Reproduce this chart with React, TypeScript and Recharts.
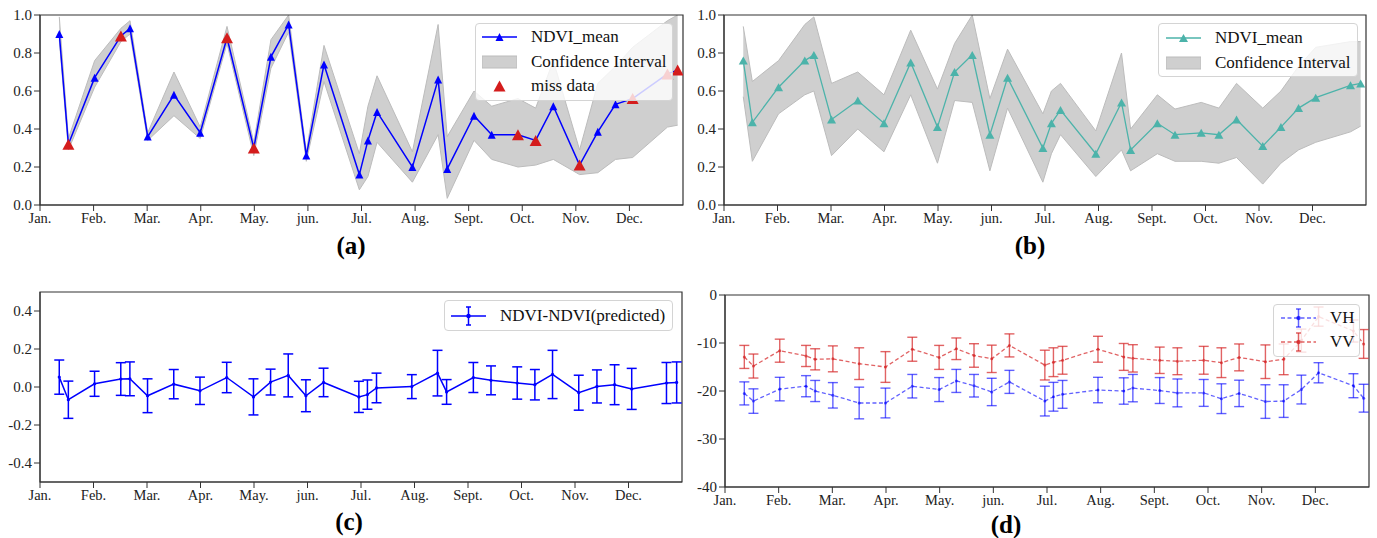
import React from 'react'
import {
  ComposedChart,
  Line,
  Area,
  Scatter,
  XAxis,
  YAxis,
  ErrorBar,
  ReferenceArea,
  Legend
} from 'recharts'

// month labels along every x axis (x value = months since Jan. 1)
const months = ['Jan.', 'Feb.', 'Mar.', 'Apr.', 'May.', 'jun.', 'Jul.', 'Aug.', 'Sept.', 'Oct.', 'Nov.', 'Dec.']
const monthTicks = [0, 1, 2, 3, 4, 5, 6, 7, 8, 9, 10, 11]

// acquisition dates, shared by all four panels
const dates = [
  0.36, 0.53, 1.02, 1.51, 1.68, 2.01, 2.5, 2.99, 3.49, 3.99, 4.31, 4.64, 4.97, 5.3, 5.96, 6.12,
  6.29, 6.95, 7.43, 7.6, 8.1, 8.43, 8.92, 9.25, 9.58, 10.07, 10.41, 10.74, 11.06, 11.71, 11.9
]

// (a) NDVI mean with gap-filled ("miss data") dates
const ndviA = [
  0.9, 0.32, 0.67, 0.89, 0.93, 0.36, 0.58, 0.38, 0.88, 0.3, 0.78, 0.95, 0.26, 0.74, 0.16, 0.34,
  0.49, 0.2, 0.66, 0.19, 0.47, 0.37, 0.37, 0.34, 0.52, 0.21, 0.385, 0.53, 0.56, 0.69, 0.71
]
const loA = [
  0.87, 0.29, 0.62, 0.86, 0.9, 0.34, 0.47, 0.35, 0.85, 0.26, 0.72, 0.91, 0.23, 0.65, 0.08, 0.15,
  0.33, 0.12, 0.37, 0.035, 0.34, 0.24, 0.2, 0.21, 0.24, 0.16, 0.17, 0.24, 0.25, 0.41, 0.42
]
const hiA = [
  0.99, 0.35, 0.76, 0.93, 0.97, 0.38, 0.7, 0.41, 0.94, 0.33, 0.87, 1.0, 0.28, 0.84, 0.27, 0.52,
  0.68, 0.28, 0.95, 0.36, 0.6, 0.52, 0.56, 0.51, 0.76, 0.29, 0.64, 0.73, 0.83, 0.97, 1.0
]
const missIdx = [1, 3, 8, 9, 22, 23, 25, 28, 29, 30]

// (b) NDVI mean
const ndviB = [
  0.76, 0.435, 0.62, 0.76, 0.79, 0.45, 0.55, 0.43, 0.75, 0.41, 0.7, 0.79, 0.37, 0.67, 0.3, 0.43,
  0.5, 0.27, 0.54, 0.29, 0.43, 0.37, 0.38, 0.37, 0.45, 0.31, 0.41, 0.51, 0.565, 0.63, 0.64
]
const loB = [
  0.57, 0.23, 0.48, 0.58, 0.6, 0.26, 0.4, 0.28, 0.58, 0.22, 0.55, 0.54, 0.18, 0.51, 0.12, 0.27,
  0.37, 0.15, 0.29, 0.18, 0.27, 0.23, 0.23, 0.22, 0.25, 0.11, 0.22, 0.29, 0.33, 0.385, 0.415
]
const hiB = [
  0.94, 0.65, 0.76, 0.95, 0.99, 0.64, 0.7, 0.58, 0.92, 0.61, 0.85, 1.0, 0.56, 0.82, 0.48, 0.6,
  0.64, 0.39, 0.8, 0.4, 0.58, 0.505, 0.54, 0.51, 0.64, 0.51, 0.6, 0.73, 0.83, 0.86, 0.86
]

// (c) NDVI - NDVI(predicted)
const diffC = [
  0.052, -0.067, 0.017, 0.042, 0.043, -0.046, 0.015, -0.02, 0.05, -0.052, 0.026, 0.061, -0.046,
  0.024, -0.052, -0.04, -0.005, 0.002, 0.073, -0.026, 0.05, 0.035, 0.021, 0.012, 0.066, -0.03,
  0.003, 0.012, -0.01, 0.021, 0.024
]
const errC = [
  0.09, 0.098, 0.066, 0.086, 0.089, 0.089, 0.077, 0.072, 0.08, 0.095, 0.068, 0.113, 0.084, 0.075,
  0.082, 0.077, 0.078, 0.063, 0.12, 0.065, 0.079, 0.076, 0.085, 0.08, 0.127, 0.092, 0.087, 0.105,
  0.108, 0.108, 0.108
]

// (d) backscatter VH / VV
const vh = [
  -20.5, -22.1, -19.6, -19.0, -20.0, -20.9, -22.5, -22.5, -19.0, -19.7, -17.9, -18.9, -20.2, -18.1,
  -22.1, -21.2, -20.7, -19.8, -20.0, -19.4, -19.9, -20.4, -20.4, -21.6, -20.5, -22.2, -22.1, -19.7,
  -16.2, -18.9, -21.5
]
const vhErr = [
  2.4, 2.55, 2.45, 2.2, 2.2, 2.65, 3.3, 3.1, 2.45, 2.5, 2.4, 2.35, 2.85, 2.4, 3.1, 3.0, 2.9, 2.65,
  2.75, 2.85, 2.7, 2.9, 2.8, 3.1, 2.75, 3.5, 3.4, 3.0, 2.1, 2.5, 2.9
]
const vv = [
  -12.9, -14.8, -11.6, -12.7, -13.4, -13.3, -14.3, -15.0, -11.3, -13.0, -11.2, -12.6, -13.3, -10.5,
  -14.6, -14.0, -13.6, -11.3, -12.9, -13.2, -13.6, -13.8, -13.6, -14.1, -13.0, -13.9, -13.4, -9.5,
  -4.5, -7.5, -10.2
]
const vvErr = [
  2.4, 2.5, 2.4, 2.2, 2.2, 2.7, 3.3, 3.2, 2.5, 2.5, 2.25, 2.45, 2.85, 2.4, 3.1, 3.0, 2.9, 2.7, 2.8,
  2.85, 2.75, 2.8, 2.9, 3.1, 2.8, 3.5, 3.2, 2.4, 2.0, 2.3, 3.0
]

const rowsA = dates.map((m, i) => ({ month: m, ndvi: ndviA[i], lo: loA[i], hi: hiA[i], miss: missIdx.includes(i) }))
const missRowsA = rowsA.filter((r) => r.miss)
const rowsB = dates.map((m, i) => ({ month: m, ndvi: ndviB[i], lo: loB[i], hi: hiB[i] }))
const rowsC = dates.map((m, i) => ({ month: m, diff: diffC[i], err: errC[i] }))
const rowsD = dates.map((m, i) => ({ month: m, vh: vh[i], vhErr: vhErr[i], vv: vv[i], vvErr: vvErr[i] }))

const FONT = '"Liberation Serif", "Times New Roman", serif'
const AXIS = '#333'
const BLUE = '#0000ff'
const TEAL = '#4cb3aa'
const RED = '#d41c1c'
const BAND = '#cfcfcf'
const BAND_EDGE = '#bcbcbc'
const VH_C = 'rgba(0,0,255,0.62)'
const VV_C = 'rgba(214,39,40,0.72)'

const tri = (cx: number, cy: number, w: number, h: number) =>
  `${cx},${cy - h / 2} ${cx - w / 2},${cy + h / 2} ${cx + w / 2},${cy + h / 2}`

function xAxis() {
  return (
    <XAxis
      type="number"
      dataKey="month"
      domain={[0, 12]}
      ticks={monthTicks}
      interval={0}
      allowDataOverflow
      tickFormatter={(v: number) => months[v]}
      tick={{ fontSize: 14.5, fill: '#222', fontFamily: FONT }}
      stroke={AXIS}
      height={25}
    />
  )
}

function yAxis(domain: number[], ticks: number[], fmt: (v: number) => string) {
  return (
    <YAxis
      type="number"
      domain={domain}
      ticks={ticks}
      interval={0}
      allowDataOverflow
      tickFormatter={fmt}
      tick={{ fontSize: 15, fill: '#222', fontFamily: FONT }}
      stroke={AXIS}
      width={40}
    />
  )
}

const LegendBox = ({ rows, rowH, pad }: { rows: { icon: React.ReactNode; label: string }[]; rowH: number; pad: string }) => (
  <div
    style={{
      boxSizing: 'border-box',
      width: '100%',
      height: '100%',
      background: 'rgba(255,255,255,0.8)',
      border: '1px solid #d4d4d4',
      borderRadius: 4,
      padding: pad,
      fontFamily: FONT,
      fontSize: 17,
      color: '#111'
    }}
  >
    {rows.map((r) => (
      <div key={r.label} style={{ display: 'flex', alignItems: 'center', height: rowH }}>
        <svg width={35} height={20} style={{ marginRight: 14, flex: 'none' }}>
          {r.icon}
        </svg>
        <span style={{ whiteSpace: 'nowrap' }}>{r.label}</span>
      </div>
    ))}
  </div>
)

const errIcon = (color: string, dash?: string) => (
  <g stroke={color} strokeWidth={1.5}>
    <line x1={0} y1={10} x2={35} y2={10} strokeDasharray={dash} />
    <line x1={17.5} y1={1} x2={17.5} y2={19} />
    <line x1={15} y1={1} x2={20} y2={1} />
    <line x1={15} y1={19} x2={20} y2={19} />
    <circle cx={17.5} cy={10} r={1.5} fill={color} />
  </g>
)

function PanelA() {
  return (
    <ComposedChart width={700} height={230} data={rowsA} margin={{ top: 15, right: 17, bottom: 0, left: 0 }}>
      {xAxis()}
      {yAxis([0, 1], [0, 0.2, 0.4, 0.6, 0.8, 1], (v) => v.toFixed(1))}
      <Area
        type="linear"
        dataKey={(d: any) => [d.lo, d.hi]}
        fill={BAND}
        fillOpacity={1}
        stroke={BAND_EDGE}
        strokeWidth={1}
        dot={false}
        activeDot={false}
        isAnimationActive={false}
      />
      <Line
        type="linear"
        dataKey="ndvi"
        stroke={BLUE}
        strokeWidth={1.5}
        dot={(p: any) =>
          p.payload.miss ? (
            <g key={p.index} />
          ) : (
            <polygon key={p.index} points={tri(p.cx, p.cy, 8, 8)} fill={BLUE} />
          )
        }
        activeDot={false}
        isAnimationActive={false}
      />
      <Scatter
        data={missRowsA}
        dataKey="ndvi"
        isAnimationActive={false}
        shape={(p: any) => <polygon points={tri(p.cx, p.cy, 12, 11)} fill={RED} />}
      />
      <ReferenceArea x1={0} x2={12} y1={0} y2={1} fill="none" stroke={AXIS} strokeWidth={1.2} />
      <Legend
        layout="horizontal"
        verticalAlign="middle"
        align="center"
        wrapperStyle={{ left: 475, top: 23, width: 198, height: 78 }}
        content={() => (
          <LegendBox
            rowH={24.5}
            pad="1px 6px"
            rows={[
              {
                label: 'NDVI_mean',
                icon: (
                  <g>
                    <line x1={0} y1={10} x2={35} y2={10} stroke={BLUE} strokeWidth={1.5} />
                    <polygon points={tri(17.5, 10, 8, 8)} fill={BLUE} />
                  </g>
                )
              },
              { label: 'Confidence Interval', icon: <rect x={0} y={4} width={35} height={12} fill={BAND} stroke={BAND_EDGE} /> },
              { label: 'miss data', icon: <polygon points={tri(17.5, 10, 12, 11)} fill={RED} /> }
            ]}
          />
        )}
      />
    </ComposedChart>
  )
}

function PanelB() {
  return (
    <ComposedChart width={700} height={230} data={rowsB} margin={{ top: 15, right: 18, bottom: 0, left: 0 }}>
      {xAxis()}
      {yAxis([0, 1], [0, 0.2, 0.4, 0.6, 0.8, 1], (v) => v.toFixed(1))}
      <Area
        type="linear"
        dataKey={(d: any) => [d.lo, d.hi]}
        fill={BAND}
        fillOpacity={1}
        stroke={BAND_EDGE}
        strokeWidth={1}
        dot={false}
        activeDot={false}
        isAnimationActive={false}
      />
      <Line
        type="linear"
        dataKey="ndvi"
        stroke={TEAL}
        strokeWidth={1.3}
        dot={(p: any) => <polygon key={p.index} points={tri(p.cx, p.cy, 9, 8)} fill={TEAL} />}
        activeDot={false}
        isAnimationActive={false}
      />
      <ReferenceArea x1={0} x2={12} y1={0} y2={1} fill="none" stroke={AXIS} strokeWidth={1.2} />
      <Legend
        layout="horizontal"
        verticalAlign="middle"
        align="center"
        wrapperStyle={{ left: 474, top: 23, width: 200, height: 54 }}
        content={() => (
          <LegendBox
            rowH={25}
            pad="1px 7px"
            rows={[
              {
                label: 'NDVI_mean',
                icon: (
                  <g>
                    <line x1={0} y1={10} x2={35} y2={10} stroke={TEAL} strokeWidth={1.5} />
                    <polygon points={tri(17.5, 10, 9, 8)} fill={TEAL} />
                  </g>
                )
              },
              { label: 'Confidence Interval', icon: <rect x={0} y={4} width={35} height={12} fill={BAND} stroke={BAND_EDGE} /> }
            ]}
          />
        )}
      />
    </ComposedChart>
  )
}

function PanelC() {
  return (
    <ComposedChart width={700} height={231} data={rowsC} margin={{ top: 16, right: 18, bottom: 0, left: 0 }}>
      {xAxis()}
      {yAxis([-0.5, 0.5], [-0.4, -0.2, 0, 0.2, 0.4], (v) => v.toFixed(1))}
      <Line
        type="linear"
        dataKey="diff"
        stroke={BLUE}
        strokeWidth={1.5}
        dot={{ r: 1.6, fill: BLUE, stroke: 'none' }}
        activeDot={false}
        isAnimationActive={false}
      >
        <ErrorBar dataKey="err" direction="y" width={5} stroke={BLUE} strokeWidth={1.5} />
      </Line>
      <ReferenceArea x1={0} x2={12} y1={-0.5} y2={0.5} fill="none" stroke={AXIS} strokeWidth={1.2} />
      <Legend
        layout="horizontal"
        verticalAlign="middle"
        align="center"
        wrapperStyle={{ left: 444, top: 24, width: 229, height: 31 }}
        content={() => (
          <LegendBox rowH={27} pad="1px 6px" rows={[{ label: 'NDVI-NDVI(predicted)', icon: errIcon(BLUE) }]} />
        )}
      />
    </ComposedChart>
  )
}

function PanelD() {
  return (
    <ComposedChart width={700} height={232} data={rowsD} margin={{ top: 15, right: 16, bottom: 0, left: 0 }}>
      {xAxis()}
      {yAxis([-40, 0], [-40, -30, -20, -10, 0], (v) => String(v))}
      <Line
        type="linear"
        dataKey="vh"
        stroke={VH_C}
        strokeWidth={1.3}
        strokeDasharray="4 2.5"
        dot={{ r: 1.5, fill: VH_C, stroke: 'none' }}
        activeDot={false}
        isAnimationActive={false}
      >
        <ErrorBar dataKey="vhErr" direction="y" width={5} stroke={VH_C} strokeWidth={1.4} />
      </Line>
      <Line
        type="linear"
        dataKey="vv"
        stroke={VV_C}
        strokeWidth={1.3}
        strokeDasharray="4 2.5"
        dot={{ r: 1.5, fill: VV_C, stroke: 'none' }}
        activeDot={false}
        isAnimationActive={false}
      >
        <ErrorBar dataKey="vvErr" direction="y" width={5} stroke={VV_C} strokeWidth={1.4} />
      </Line>
      <ReferenceArea x1={0} x2={12} y1={-40} y2={0} fill="none" stroke={AXIS} strokeWidth={1.2} />
      <Legend
        layout="horizontal"
        verticalAlign="middle"
        align="center"
        wrapperStyle={{ left: 588, top: 24, width: 87, height: 53 }}
        content={() => (
          <LegendBox
            rowH={24}
            pad="1px 7px"
            rows={[
              { label: 'VH', icon: errIcon(VH_C, '4 2.5') },
              { label: 'VV', icon: errIcon(VV_C, '4 2.5') }
            ]}
          />
        )}
      />
    </ComposedChart>
  )
}

const title = (text: string, x: number, y: number) => (
  <div
    style={{
      position: 'absolute',
      left: x,
      top: y,
      transform: 'translate(-50%, -50%)',
      fontSize: 25,
      fontWeight: 'bold',
      lineHeight: 1
    }}
  >
    {text}
  </div>
)

export default function App() {
  return (
    <div
      style={{
        position: 'absolute',
        left: 0,
        top: 0,
        width: 1377,
        height: 538,
        background: '#fff',
        overflow: 'hidden',
        fontFamily: FONT
      }}
    >
      <div style={{ position: 'absolute', left: 0, top: 0 }}>
        <PanelA />
      </div>
      <div style={{ position: 'absolute', left: 684, top: 0 }}>
        <PanelB />
      </div>
      <div style={{ position: 'absolute', left: 0, top: 276 }}>
        <PanelC />
      </div>
      <div style={{ position: 'absolute', left: 685, top: 280 }}>
        <PanelD />
      </div>
      {title('(a)', 351, 245)}
      {title('(b)', 1030, 245)}
      {title('(c)', 349, 521)}
      {title('(d)', 1006, 524)}
    </div>
  )
}
